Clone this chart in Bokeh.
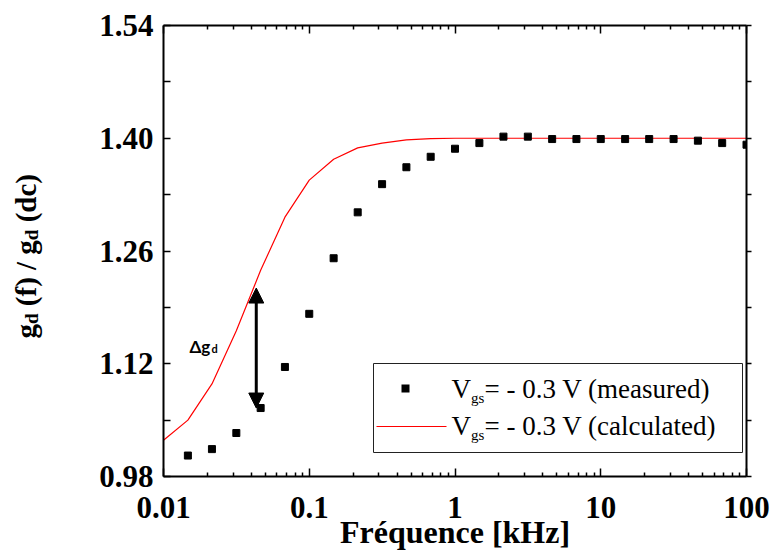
import math
from bokeh.plotting import figure
from bokeh.layouts import row
from bokeh.models import (Range1d, LogAxis, LinearAxis, FixedTicker, CustomJSTickFormatter,
                          NumeralTickFormatter, Label, BoxAnnotation, Arrow, NormalHead)
from bokeh.embed import file_html
from bokeh.resources import INLINE

# ---------------- data ----------------
freq_measured = [0.0147, 0.0215, 0.0316, 0.0464, 0.0681, 0.1, 0.147, 0.215, 0.316, 0.464,
                 0.681, 1.0, 1.47, 2.15, 3.16, 4.64, 6.81, 10, 14.7, 21.5, 31.6, 46.4, 68.1, 100]
gd_measured = [1.006, 1.014, 1.034, 1.065, 1.116, 1.182, 1.251, 1.308, 1.343, 1.364,
               1.377, 1.387, 1.394, 1.402, 1.402, 1.399, 1.399, 1.399, 1.399, 1.399, 1.399,
               1.397, 1.394, 1.392]

freq_calc = [0.01, 0.0147, 0.0215, 0.0316, 0.0464, 0.0681, 0.1, 0.147, 0.215, 0.316, 0.464,
             0.681, 1.0, 1.47, 2.15, 3.16, 4.64, 6.81, 10, 14.7, 21.5, 31.6, 46.4, 68.1, 100]
gd_calc = [1.025, 1.050, 1.095, 1.161, 1.236, 1.302, 1.348, 1.374, 1.388, 1.394, 1.398,
           1.3995, 1.400, 1.400, 1.400, 1.400, 1.400, 1.400, 1.400, 1.400, 1.400, 1.400,
           1.400, 1.400, 1.400]

x_ticks = [0.01, 0.1, 1, 10, 100]
y_ticks = [0.98, 1.12, 1.26, 1.40, 1.54]
y_minor_ticks = [1.05, 1.19, 1.33, 1.47]

arrow_freq = 0.0433
arrow_top = 1.214
arrow_bottom = 1.065

legend_measured = "= - 0.3 V (measured)"
legend_calculated = "= - 0.3 V (calculated)"
x_title = "Fréquence [kHz]"

# ---------------- main figure ----------------
SERIF = "Liberation Serif"
LEFT_W = 60
x_minor_ticks = [m * 10.0 ** e for e in range(-2, 2) for m in range(2, 10)]

p = figure(width=773 - LEFT_W, height=560, x_axis_type="log",
           x_range=Range1d(0.01, 100), y_range=Range1d(0.98, 1.54),
           output_backend="svg", toolbar_location=None,
           min_border_left=163 - LEFT_W, min_border_right=27, min_border_top=25,
           min_border_bottom=84)
p.grid.visible = False
p.outline_line_color = None
p.background_fill_color = "white"
p.border_fill_color = "white"

xt = FixedTicker(ticks=x_ticks, minor_ticks=x_minor_ticks)
yt = FixedTicker(ticks=y_ticks, minor_ticks=y_minor_ticks)
blank = CustomJSTickFormatter(code="return '';")


def style(ax):
    ax.axis_line_width = 2
    ax.axis_line_color = "black"
    ax.major_tick_line_width = 1.5
    ax.minor_tick_line_width = 1.5
    ax.major_tick_line_color = "black"
    ax.minor_tick_line_color = "black"
    ax.major_label_text_font = SERIF
    ax.major_label_text_font_style = "bold"
    ax.major_label_text_font_size = "31px"
    ax.major_label_text_color = "black"


xa = p.xaxis[0]
xa.ticker = xt
xa.formatter = CustomJSTickFormatter(code="return tick.toString();")
style(xa)
xa.major_tick_in = 8
xa.major_tick_out = 0
xa.minor_tick_in = 4
xa.minor_tick_out = 0
xa.major_label_standoff = 20
xa.axis_label = x_title
xa.axis_label_text_font = SERIF
xa.axis_label_text_font_style = "bold"
xa.axis_label_text_font_size = "32px"
xa.axis_label_text_color = "black"
xa.axis_label_standoff = -7

ya = p.yaxis[0]
ya.ticker = yt
ya.formatter = NumeralTickFormatter(format="0.00")
style(ya)
ya.major_tick_in = 7
ya.major_tick_out = 0
ya.minor_tick_in = 7
ya.minor_tick_out = 0
ya.major_label_standoff = 10

top = LogAxis(ticker=xt, formatter=blank)
style(top)
top.major_tick_in = 8
top.major_tick_out = 0
top.minor_tick_in = 4
top.minor_tick_out = 0
top.major_label_text_font_size = "1px"
p.add_layout(top, "above")

right = LinearAxis(ticker=yt, formatter=blank)
style(right)
right.major_tick_in = 0
right.major_tick_out = 5
right.minor_tick_in = 0
right.minor_tick_out = 5
right.major_label_text_font_size = "1px"
p.add_layout(right, "right")

# ---------------- data glyphs ----------------
p.line(freq_calc, gd_calc, line_color="red", line_width=1.2)
p.scatter(freq_measured, gd_measured, marker="square", size=7,
          fill_color="black", line_color="black")

p.add_layout(Arrow(x_start=arrow_freq, y_start=arrow_bottom, x_end=arrow_freq, y_end=arrow_top,
                   line_width=3, line_color="black",
                   start=NormalHead(size=15, fill_color="black", line_color="black"),
                   end=NormalHead(size=15, fill_color="black", line_color="black")))

# delta g_d annotation
p.add_layout(Label(x=26, y=130, x_units="screen", y_units="screen", text="Δg",
                   text_font="Lato", text_font_style="bold", text_font_size="17px",
                   text_color="black", text_baseline="alphabetic"))
p.add_layout(Label(x=48, y=128, x_units="screen", y_units="screen", text="d",
                   text_font="Lato", text_font_style="bold", text_font_size="11px",
                   text_color="black", text_baseline="alphabetic"))

# ---------------- legend (manual, for subscripts) ----------------
p.add_layout(BoxAnnotation(left=210, right=579, bottom=24, top=113,
                           left_units="screen", right_units="screen",
                           bottom_units="screen", top_units="screen",
                           fill_color="white", fill_alpha=1.0,
                           line_color="#222222", line_width=1, line_alpha=1.0))
p.add_layout(BoxAnnotation(left=238, right=246, bottom=84, top=92,
                           left_units="screen", right_units="screen",
                           bottom_units="screen", top_units="screen",
                           fill_color="black", fill_alpha=1.0, line_color=None))
p.add_layout(Arrow(x_start=213, y_start=50, x_end=283, y_end=50,
                   start_units="screen", end_units="screen", start=None, end=None,
                   line_color="red", line_width=1.2))

for base_y, rest in ((88, legend_measured), (51, legend_calculated)):
    p.add_layout(Label(x=288, y=base_y, x_units="screen", y_units="screen", text="V",
                       text_font=SERIF, text_font_size="27px", text_color="black",
                       text_baseline="alphabetic"))
    p.add_layout(Label(x=307.5, y=base_y - 9, x_units="screen", y_units="screen", text="gs",
                       text_font=SERIF, text_font_size="15px", text_color="black",
                       text_baseline="alphabetic"))
    p.add_layout(Label(x=321, y=base_y, x_units="screen", y_units="screen", text=rest,
                       text_font=SERIF, text_font_size="27px", text_color="black",
                       text_baseline="alphabetic"))

# ---------------- y axis title (with subscripts) in a narrow side figure ----------------
side = figure(width=LEFT_W, height=560, x_range=Range1d(0, 1), y_range=Range1d(0, 1),
              output_backend="svg", toolbar_location=None, title=None,
              x_axis_location=None, y_axis_location=None, min_border=0)
side.outline_line_color = None
side.grid.visible = False
side.background_fill_color = "white"
side.border_fill_color = "white"

TB = {' ': 250, '(': 333, ')': 333, '/': 278, 'f': 333, 'g': 500, 'd': 556, 'c': 444}
# (text, font size, baseline shift, gap before)
pieces = [("g", 29, 0, 0), ("d", 19, 6, 0), ("(f) / g", 29, 0, 1), ("d", 19, 6, 0),
          ("(dc)", 29, 0, 1)]
ypos = 138.0  # frames of the row are aligned: measured from the main frame bottom
for txt, fs, dx, gap in pieces:
    ypos += gap * 0.25 * 29
    side.add_layout(Label(x=25 + dx, y=ypos, x_units="screen", y_units="screen", text=txt,
                          angle=math.pi / 2, text_font=SERIF, text_font_style="bold",
                          text_font_size=f"{fs}px", text_color="black",
                          text_align="left", text_baseline="alphabetic"))
    ypos += sum(TB[c] for c in txt) / 1000.0 * fs

open("out.html", "w").write(file_html(row(side, p), INLINE))
